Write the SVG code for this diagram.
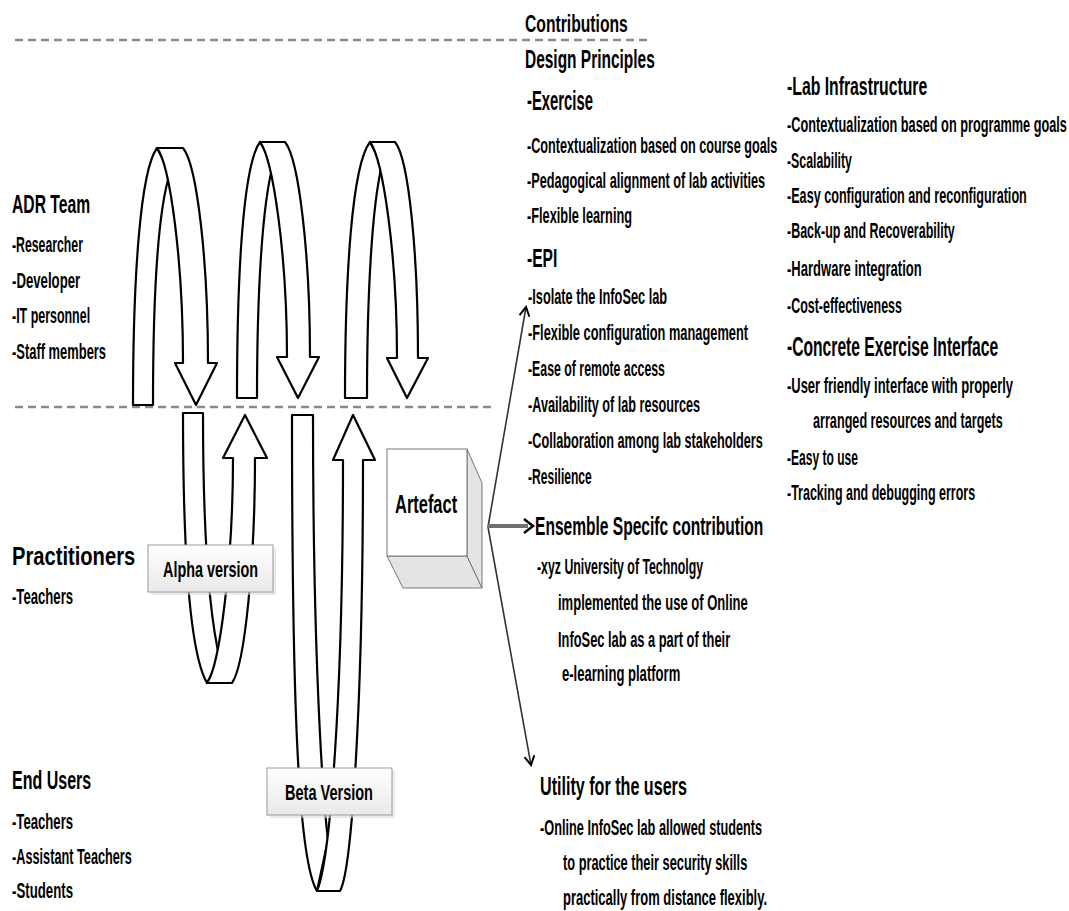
<svg xmlns="http://www.w3.org/2000/svg" width="1069" height="911" viewBox="0 0 1069 911">
<style>
text{font-family:"Liberation Sans",Arial,sans-serif;font-weight:bold;fill:#000}
.b{font-size:22px}
.h{font-size:25px}
.band{fill:#fff;stroke:#000;stroke-width:2.2;stroke-linejoin:round}
.dash{stroke:#8a8a8a;stroke-width:2.5;stroke-dasharray:8 5;fill:none}
.conn{stroke:#333;stroke-width:1.6;fill:none}
</style>
<defs>
<linearGradient id="lbl" x1="0" y1="0" x2="0" y2="1">
<stop offset="0" stop-color="#ffffff"/>
<stop offset="1" stop-color="#e9e9e9"/>
</linearGradient>
<marker id="ah" viewBox="0 0 12 12" refX="10" refY="6" markerWidth="12" markerHeight="12" markerUnits="userSpaceOnUse" orient="auto">
<path d="M1,1 L10,6 L1,11" fill="none" stroke="#000" stroke-width="2"/>
</marker>
</defs>

<g id="dividers">
<line class="dash" x1="15" y1="40" x2="650" y2="40"/>
<line class="dash" x1="15" y1="407" x2="493" y2="407"/>
</g>

<g id="loop1">
<path class="band" d="M133,405 C133,280 140,171 157,148 L170,173 C158,210 153,300 153,405 Z"/>
<path class="band" d="M157,148 L183,148 C197,165 208,260 208,363 L217,363 L196,405 L175,363 L183,363 C183,260 170,165 157,148 Z"/>
</g>
<g id="loop2">
<path class="band" d="M237,398 C237,275 243,165 260,142 L273,165 C262,205 257,295 257,398 Z"/>
<path class="band" d="M260,142 L285,142 C299,159 310,255 310,357 L319,357 L298,398 L277,357 L287,357 C287,255 273,159 260,142 Z"/>
</g>
<g id="loop3">
<path class="band" d="M345,398 C345,275 352,165 370,142 L382,165 C372,205 367,295 367,398 Z"/>
<path class="band" d="M370,142 L395,142 C409,159 418,255 418,358 L428,358 L407,398 L387,358 L397,358 C397,255 383,159 370,142 Z"/>
</g>

<g id="alpha-loop">
<path class="band" d="M183,413 L203,413 C203,520 208,610 220,660 L207,683 C188,650 183,540 183,413 Z"/>
<path class="band" d="M207,683 L232,683 C245,665 255,560 255,458 L267,458 L245,415 L223,458 L233,458 C233,560 220,665 207,683 Z"/>
</g>
<g id="beta-loop">
<path class="band" d="M292,415 L313,415 C313,650 322,790 328,840 L317,891 C298,860 292,700 292,415 Z"/>
<path class="band" d="M317,891 L340,891 C352,870 363,700 363,460 L375,460 L353,415 L333,460 L343,460 C343,700 330,860 317,891 Z"/>
</g>

<g id="alpha-version">
<rect x="151" y="548" width="125" height="47" fill="#dcdcdc" opacity="0.6"/>
<rect x="148" y="545" width="125" height="47" fill="url(#lbl)" stroke="#999" stroke-width="1"/>
<text transform="translate(163,0) scale(.55,1)" y="577" style="font-size:22px" textLength="173" lengthAdjust="spacingAndGlyphs">Alpha version</text>
</g>
<g id="beta-version">
<rect x="270" y="771" width="125" height="47" fill="#dcdcdc" opacity="0.6"/>
<rect x="267" y="768" width="125" height="47" fill="url(#lbl)" stroke="#999" stroke-width="1"/>
<text transform="translate(285,0) scale(.55,1)" y="800" style="font-size:22px" textLength="160" lengthAdjust="spacingAndGlyphs">Beta Version</text>
</g>

<g id="artefact">
<polygon points="387,556 467,556 482,588 403,588" fill="#e4e4e4" stroke="#777" stroke-width="1"/>
<polygon points="467,449 482,483 482,588 467,556" fill="#e4e4e4" stroke="#777" stroke-width="1"/>
<rect x="387" y="449" width="80" height="107" fill="#fff" stroke="#777" stroke-width="1"/>
<text transform="translate(395,0) scale(.55,1)" y="513" style="font-size:26px" textLength="113" lengthAdjust="spacingAndGlyphs">Artefact</text>
</g>

<g id="connectors">
<line class="conn" x1="488" y1="527" x2="526" y2="307" marker-end="url(#ah)"/>
<line class="conn" x1="488" y1="527" x2="531" y2="765" marker-end="url(#ah)"/>
<line x1="488" y1="526" x2="528" y2="526" stroke="#6f6f6f" stroke-width="4"/>
<path d="M524,519 L533,526 L524,533" fill="none" stroke="#000" stroke-width="2.5"/>
</g>

<g id="adr-team">
<text class="h" transform="translate(12,0) scale(.55,1)" y="213" textLength="142" lengthAdjust="spacingAndGlyphs">ADR Team</text>
<text class="b" transform="translate(12,0) scale(.55,1)" y="252" textLength="129" lengthAdjust="spacingAndGlyphs">-Researcher</text>
<text class="b" transform="translate(12,0) scale(.55,1)" y="288" textLength="124" lengthAdjust="spacingAndGlyphs">-Developer</text>
<text class="b" transform="translate(12,0) scale(.55,1)" y="323" textLength="142" lengthAdjust="spacingAndGlyphs">-IT personnel</text>
<text class="b" transform="translate(12,0) scale(.55,1)" y="359" textLength="171" lengthAdjust="spacingAndGlyphs">-Staff members</text>
</g>
<g id="practitioners">
<text class="h" transform="translate(12,0) scale(.55,1)" y="565" textLength="224" lengthAdjust="spacingAndGlyphs">Practitioners</text>
<text class="b" transform="translate(12,0) scale(.55,1)" y="604" textLength="111" lengthAdjust="spacingAndGlyphs">-Teachers</text>
</g>
<g id="end-users">
<text class="h" transform="translate(12,0) scale(.55,1)" y="789" textLength="144" lengthAdjust="spacingAndGlyphs">End Users</text>
<text class="b" transform="translate(12,0) scale(.55,1)" y="829" textLength="111" lengthAdjust="spacingAndGlyphs">-Teachers</text>
<text class="b" transform="translate(12,0) scale(.55,1)" y="864" textLength="218" lengthAdjust="spacingAndGlyphs">-Assistant Teachers</text>
<text class="b" transform="translate(12,0) scale(.55,1)" y="898" textLength="111" lengthAdjust="spacingAndGlyphs">-Students</text>
</g>

<g id="contributions">
<text transform="translate(525,0) scale(.55,1)" y="32" style="font-size:23px" textLength="187" lengthAdjust="spacingAndGlyphs">Contributions</text>
<text class="h" transform="translate(525,0) scale(.55,1)" y="68" textLength="236" lengthAdjust="spacingAndGlyphs">Design Principles</text>
</g>
<g id="exercise">
<text transform="translate(527,0) scale(.55,1)" y="110" style="font-size:27px" textLength="120" lengthAdjust="spacingAndGlyphs">-Exercise</text>
<text class="b" transform="translate(527,0) scale(.55,1)" y="153" textLength="455" lengthAdjust="spacingAndGlyphs">-Contextualization based on course goals</text>
<text class="b" transform="translate(527,0) scale(.55,1)" y="188" textLength="433" lengthAdjust="spacingAndGlyphs">-Pedagogical alignment of lab activities</text>
<text class="b" transform="translate(527,0) scale(.55,1)" y="223" textLength="191" lengthAdjust="spacingAndGlyphs">-Flexible learning</text>
</g>
<g id="epi">
<text transform="translate(527,0) scale(.55,1)" y="267" style="font-size:26px" textLength="55" lengthAdjust="spacingAndGlyphs">-EPI</text>
<text class="b" transform="translate(528,0) scale(.55,1)" y="304" textLength="253" lengthAdjust="spacingAndGlyphs">-Isolate the InfoSec lab</text>
<text class="b" transform="translate(528,0) scale(.55,1)" y="340" textLength="400" lengthAdjust="spacingAndGlyphs">-Flexible configuration management</text>
<text class="b" transform="translate(528,0) scale(.55,1)" y="376" textLength="249" lengthAdjust="spacingAndGlyphs">-Ease of remote access</text>
<text class="b" transform="translate(528,0) scale(.55,1)" y="412" textLength="313" lengthAdjust="spacingAndGlyphs">-Availability of lab resources</text>
<text class="b" transform="translate(528,0) scale(.55,1)" y="448" textLength="427" lengthAdjust="spacingAndGlyphs">-Collaboration among lab stakeholders</text>
<text class="b" transform="translate(528,0) scale(.55,1)" y="484" textLength="116" lengthAdjust="spacingAndGlyphs">-Resilience</text>
</g>
<g id="lab-infrastructure">
<text class="h" transform="translate(787,0) scale(.55,1)" y="95" textLength="255" lengthAdjust="spacingAndGlyphs">-Lab Infrastructure</text>
<text class="b" transform="translate(787,0) scale(.55,1)" y="132" textLength="509" lengthAdjust="spacingAndGlyphs">-Contextualization based on programme goals</text>
<text class="b" transform="translate(787,0) scale(.55,1)" y="168" textLength="118" lengthAdjust="spacingAndGlyphs">-Scalability</text>
<text class="b" transform="translate(787,0) scale(.55,1)" y="203" textLength="436" lengthAdjust="spacingAndGlyphs">-Easy configuration and reconfiguration</text>
<text class="b" transform="translate(787,0) scale(.55,1)" y="238" textLength="305" lengthAdjust="spacingAndGlyphs">-Back-up and Recoverability</text>
<text class="b" transform="translate(787,0) scale(.55,1)" y="276" textLength="245" lengthAdjust="spacingAndGlyphs">-Hardware integration</text>
<text class="b" transform="translate(787,0) scale(.55,1)" y="313" textLength="209" lengthAdjust="spacingAndGlyphs">-Cost-effectiveness</text>
</g>
<g id="concrete-exercise-interface">
<text transform="translate(787,0) scale(.55,1)" y="356" style="font-size:28px" textLength="384" lengthAdjust="spacingAndGlyphs">-Concrete Exercise Interface</text>
<text class="b" transform="translate(787,0) scale(.55,1)" y="393" textLength="411" lengthAdjust="spacingAndGlyphs">-User friendly interface with properly</text>
<text class="b" transform="translate(813,0) scale(.55,1)" y="428" textLength="345" lengthAdjust="spacingAndGlyphs">arranged resources and targets</text>
<text class="b" transform="translate(787,0) scale(.55,1)" y="465" textLength="129" lengthAdjust="spacingAndGlyphs">-Easy to use</text>
<text class="b" transform="translate(787,0) scale(.55,1)" y="500" textLength="342" lengthAdjust="spacingAndGlyphs">-Tracking and debugging errors</text>
</g>
<g id="ensemble">
<text class="h" transform="translate(535,0) scale(.55,1)" y="535" textLength="415" lengthAdjust="spacingAndGlyphs">Ensemble Specifc contribution</text>
<text class="b" transform="translate(537,0) scale(.55,1)" y="574" textLength="302" lengthAdjust="spacingAndGlyphs">-xyz University of Technolgy</text>
<text class="b" transform="translate(558,0) scale(.55,1)" y="610" textLength="345" lengthAdjust="spacingAndGlyphs">implemented the use of Online</text>
<text class="b" transform="translate(558,0) scale(.55,1)" y="647" textLength="313" lengthAdjust="spacingAndGlyphs">InfoSec lab as a part of their</text>
<text class="b" transform="translate(562,0) scale(.55,1)" y="681" textLength="215" lengthAdjust="spacingAndGlyphs">e-learning platform</text>
</g>
<g id="utility">
<text transform="translate(540,0) scale(.55,1)" y="795" style="font-size:26px" textLength="267" lengthAdjust="spacingAndGlyphs">Utility for the users</text>
<text class="b" transform="translate(540,0) scale(.55,1)" y="835" textLength="404" lengthAdjust="spacingAndGlyphs">-Online InfoSec lab allowed students</text>
<text class="b" transform="translate(563,0) scale(.55,1)" y="870" textLength="335" lengthAdjust="spacingAndGlyphs">to practice their security skills</text>
<text class="b" transform="translate(563,0) scale(.55,1)" y="905" textLength="371" lengthAdjust="spacingAndGlyphs">practically from distance flexibly.</text>
</g>
</svg>
